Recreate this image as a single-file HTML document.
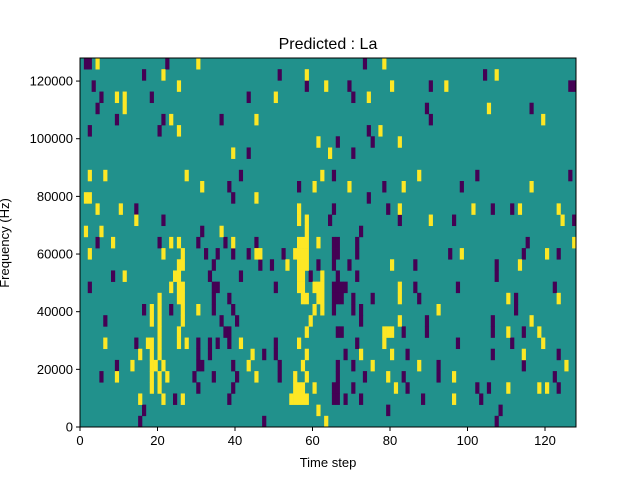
<!DOCTYPE html>
<html><head><meta charset="utf-8"><style>
body{margin:0;background:#fff;width:640px;height:480px;overflow:hidden;font-family:"Liberation Sans","DejaVu Sans",sans-serif}
</style></head><body>
<svg id="chart" width="640" height="480" xmlns="http://www.w3.org/2000/svg">
<rect x="0" y="0" width="640" height="480" fill="#fff"/>
<g id="cells"></g>
<rect x="80" y="58" width="496" height="369" fill="none" stroke="#000" stroke-width="1"/>
<g id="xticks"></g>
<g id="yticks"></g>
<text x="328" y="49" font-size="16" text-anchor="middle">Predicted : La</text>
<text x="328" y="467" font-size="13" text-anchor="middle">Time step</text>
<text transform="translate(9,243) rotate(-90)" font-size="13" text-anchor="middle">Frequency (Hz)</text>
</svg>
<script>
// number of time steps and frequency bins
const timeSteps = 128;
const freqBins = 33;
const freqMax = 128000;
const xTickValues = [0,20,40,60,80,100,120];
const yTickValues = [0,20000,40000,60000,80000,100000,120000];
// rows listed from top (highest frequency bin) to bottom; entries are time steps
const lowTimes = [
[1,2,22,73],[16,51,104],[3,58,69,90,126,127],[5,18,43,70],[4,89,116],[9,21,36,90],[2,20,74],[66,75],[43,70],[],
[41,65,102,126],[38,56,78,98],[39,74],[14,65,79,106,111],[21,64,82,96,127],[31,72],
[4,20,30,37,45,65,66,71,115],[32,35,39,43,52,65,66,71,95,114,123],[34,46,49,61,65,69,86,107],
[8,33,41,59,66,71,107],[2,34,35,50,65,66,67,68,86,97,122],[34,38,65,66,67,70,75,87,112],
[16,23,34,39,65,70,72,112],[6,36,40,72,89,106],[37,38,66,67,83,89,106,114],
[14,30,33,35,38,50,71,97,111],[30,33,47,50,68,84,106,123],[9,30,31,39,51,66,70,92,114],
[5,29,34,40,51,66,73,83,92,122],[30,39,65,66,70,84,102,105,123],[24,38,65,66,68,72,88,103],
[16,79,108],[15,47,107]
];
const highTimes = [
[4,30,78],[21,58,107],[25,63,80,94],[9,11,50,74],[11,105],[23,45,119],[25,77],[61,82],[39,64],[],
[2,6,27,62,87],[31,60,69,83,116],[1,2,45],[4,10,56,82,101,113,123],[14,56,58,90,124],[1,5,36,58],
[8,23,25,39,56,57,58,61,127],[2,21,26,45,46,55,56,57,58,98,120],[25,26,53,56,57,58,80,113],
[11,24,25,56,57,62],[23,25,26,56,57,60,61,62,82],[20,25,26,57,58,61,62,82,110,123],
[18,20,26,30,60,62,92],[18,20,26,59,82,116],[20,25,58,78,79,80,110,118],
[6,17,18,20,25,27,41,56,78,119],[15,18,20,44,58,72,80,114],[13,18,19,21,43,57,75,87,125],
[9,18,20,22,45,55,58,79,96],[18,20,55,56,57,60,81,110,118,120],[15,21,26,54,55,56,57,58,96],
[61],[63]
];
const NS="http://www.w3.org/2000/svg";
const L=80,T=58,W=496,H=369;
const xScale=t=>L+t*W/timeSteps;
const yScale=v=>T+H-v*H/freqMax;
const binH=H/freqBins;
const cells=document.getElementById('cells');
function mk(tag,attrs,parent){const e=document.createElementNS(NS,tag);for(const k in attrs)e.setAttribute(k,attrs[k]);parent.appendChild(e);return e;}
const bg=mk('rect',{x:L,y:T,width:W,height:H,fill:'#21918c'},cells);


function drawSet(rows,color,name){
  rows.forEach((list,r)=>{
    list.forEach(t=>{
      const c=mk('rect',{x:xScale(t),y:T+r*binH,width:W/timeSteps+0.3,height:binH+0.3,fill:color},cells);
      
      
    });
  });
}
drawSet(lowTimes,'#440154','heatmap-cell-low');
drawSet(highTimes,'#fde725','heatmap-cell-high');
const xt=document.getElementById('xticks');
xTickValues.forEach(v=>{
  const x=xScale(v);
  const l=mk('line',{x1:x,x2:x,y1:T+H,y2:T+H+4,stroke:'#000'},xt);
  
  
  const tx=mk('text',{x:x,y:T+H+18,'font-size':13,'text-anchor':'middle'},xt);
  tx.textContent=v;
  
  
});
const yt=document.getElementById('yticks');
yTickValues.forEach(v=>{
  const y=yScale(v);
  const l=mk('line',{x1:L-4,x2:L,y1:y,y2:y,stroke:'#000'},yt);
  
  
  const tx=mk('text',{x:L-7,y:y+4.5,'font-size':13,'text-anchor':'end'},yt);
  tx.textContent=v;
  
  
});
</script>
</body></html>
